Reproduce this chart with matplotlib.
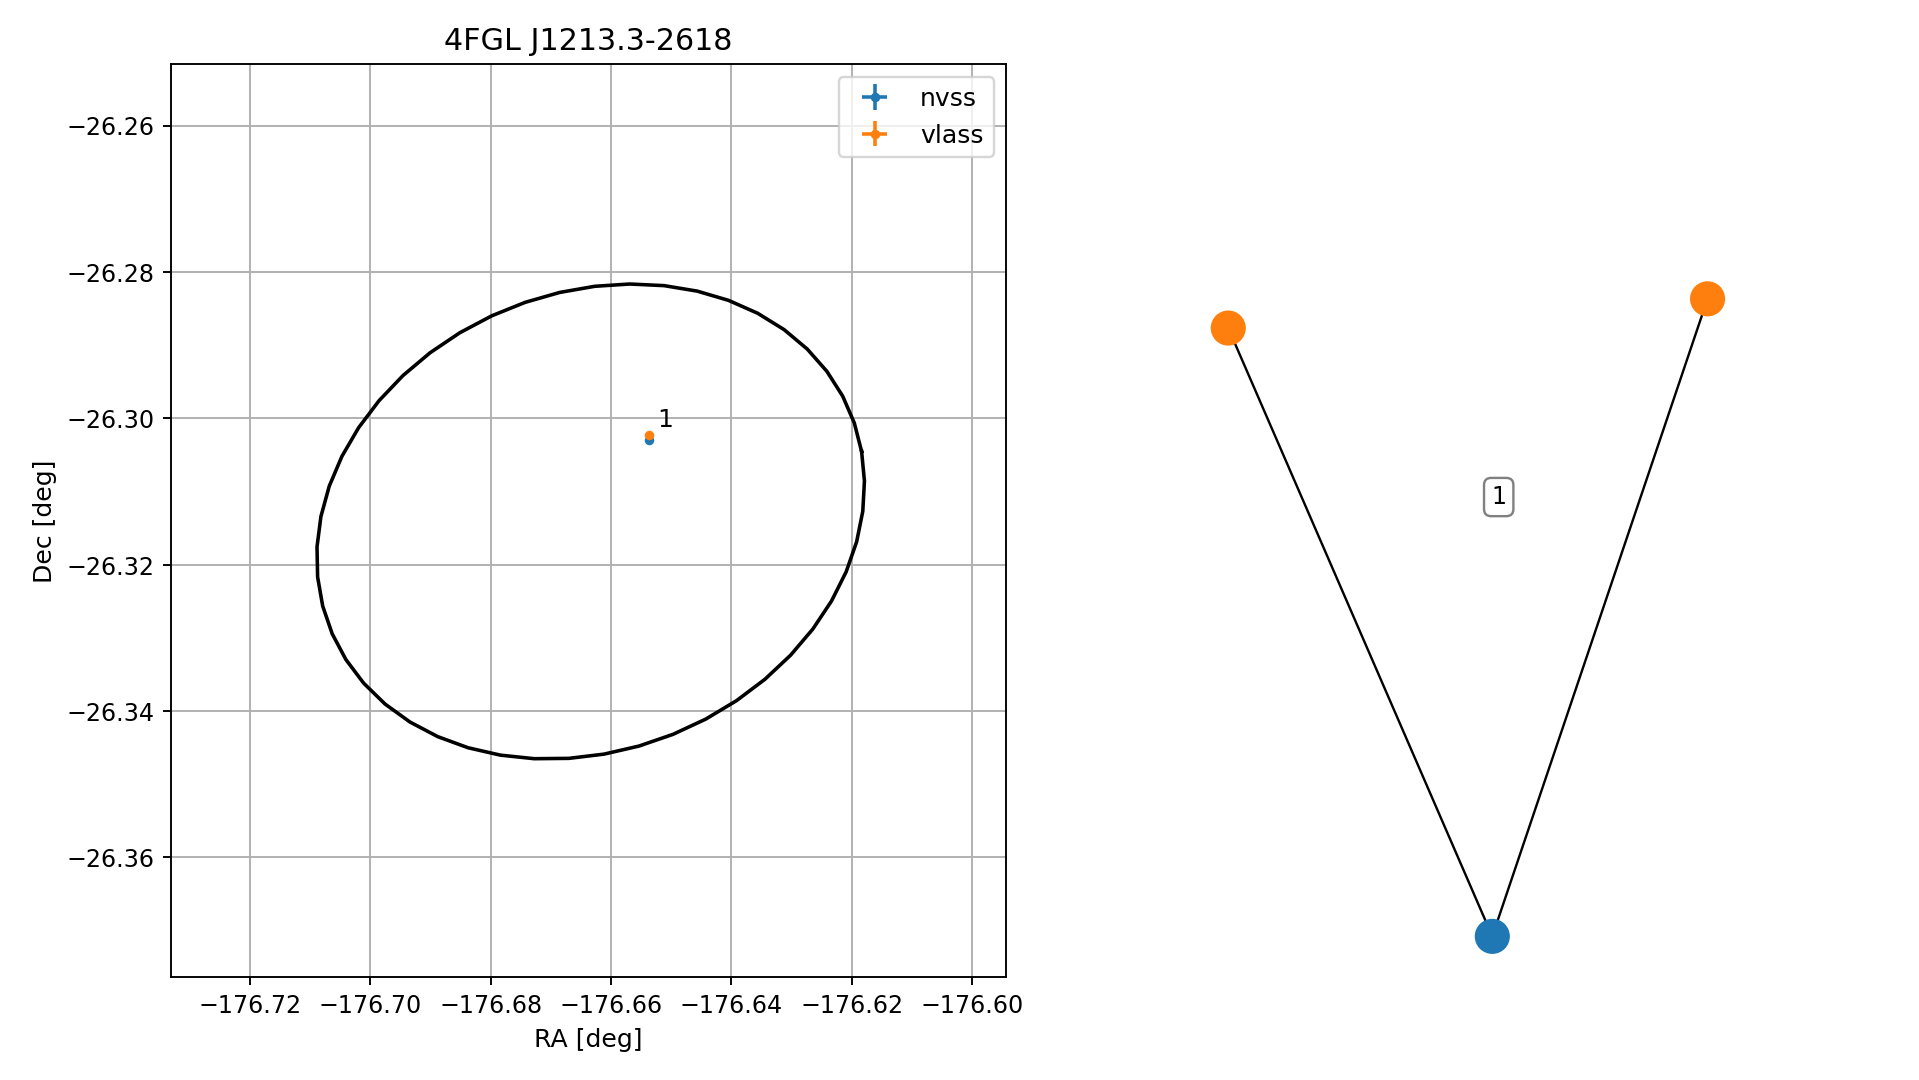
import numpy as np
import matplotlib
matplotlib.use("Agg")
import matplotlib.pyplot as plt

# source name and 4FGL error ellipse (center, semi-axes in deg, angle in deg)
source_name = "4FGL J1213.3-2618"
ell_center = (-176.6634, -26.3141)
ell_a = 0.04607
ell_b = 0.03170
ell_angle = 12.0

# radio counterparts
surveys = ["nvss", "vlass"]
ra = [-176.6537, -176.6537]
dec = [-26.3029, -26.3023]
ra_err = [0.0001, 0.0001]
dec_err = [0.0001, 0.0001]
match_label = "1"

# graph of matches (node positions in the right panel)
node_names = ["vlass_a", "vlass_b", "nvss_a"]
node_survey = ["vlass", "vlass", "nvss"]
node_x = [0.160, 0.759, 0.490]
node_y = [0.711, 0.743, 0.045]
edges = [("nvss_a", "vlass_a"), ("nvss_a", "vlass_b")]
cluster_label_pos = (0.498, 0.526)

colors = {"nvss": "tab:blue", "vlass": "tab:orange"}

dpi = 171
fig = plt.figure(figsize=(1919.4 / dpi, 1080.4 / dpi), dpi=dpi)

# left panel: positions and error ellipse
ax = fig.add_axes([0.0890, 0.0949, 0.4352, 0.8454])
t = np.linspace(0, 2 * np.pi, 50)
phi = np.deg2rad(ell_angle)
ex = ell_center[0] + ell_a * np.cos(t) * np.cos(phi) - ell_b * np.sin(t) * np.sin(phi)
ey = ell_center[1] + ell_a * np.cos(t) * np.sin(phi) + ell_b * np.sin(t) * np.cos(phi)
ax.plot(ex, ey, color="black", lw=1.5)

for i, s in enumerate(surveys):
    ax.errorbar(ra[i], dec[i], xerr=ra_err[i], yerr=dec_err[i], fmt=".",
                color=colors[s], label=s)
ax.annotate(match_label, (ra[1], dec[1]), xytext=(3.5, 3.5), textcoords="offset points",
            fontsize=10.6)

ax.set_xlim(-176.7332, -176.5943)
ax.set_ylim(-26.3764, -26.2516)
ax.set_xticks(np.arange(-176.72, -176.59, 0.02))
ax.set_yticks(np.arange(-26.36, -26.25, 0.02))
ax.set_xlabel("RA [deg]", fontsize=10.6)
ax.set_ylabel("Dec [deg]", fontsize=10.6)
ax.set_title(source_name, fontsize=12.7)
ax.grid()
ax.legend(loc="upper right", fontsize=10.6)

# right panel: match graph
ax2 = fig.add_axes([1100 / 1919, 0.0949, 800 / 1919, 0.8454])
ax2.set_xlim(0, 1)
ax2.set_ylim(0, 1)
ax2.axis("off")
pos = {n: (x, y) for n, x, y in zip(node_names, node_x, node_y)}
for u, v in edges:
    ax2.plot([pos[u][0], pos[v][0]], [pos[u][1], pos[v][1]], color="black", lw=1.0, zorder=1)
ax2.scatter(node_x, node_y, s=190, c=[colors[s] for s in node_survey], zorder=2)
ax2.text(cluster_label_pos[0], cluster_label_pos[1], match_label, ha="center", va="center",
         bbox=dict(boxstyle="round", fc="white", ec="gray"))

fig.savefig("out.png", dpi=dpi)
